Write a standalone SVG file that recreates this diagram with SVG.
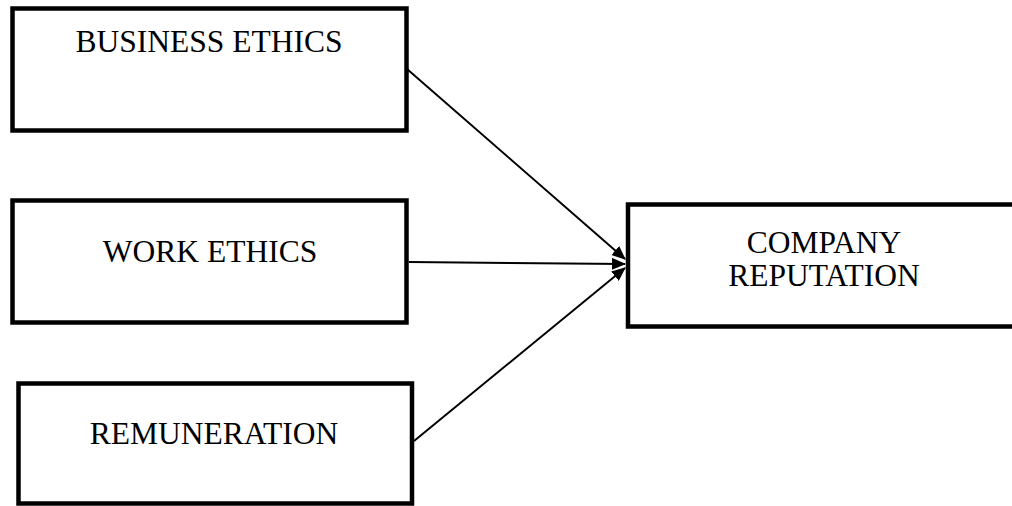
<svg xmlns="http://www.w3.org/2000/svg" width="1012" height="506" viewBox="0 0 1012 506">
<defs>
<marker id="arr" viewBox="0 0 14 12" refX="13" refY="6" markerWidth="14" markerHeight="12" markerUnits="userSpaceOnUse" orient="auto">
<path d="M0,0 L14,6 L0,12 Z" fill="#000"/>
</marker>
<style>
.box{fill:#fff;stroke:#000;stroke-width:4.5}
.lbl{font-family:"Liberation Serif","Times New Roman",serif;font-size:31.5px;fill:#000;text-anchor:middle}
.conn{stroke:#000;stroke-width:2;fill:none;marker-end:url(#arr)}
</style>
</defs>
<rect width="1012" height="506" fill="#fff"/>
<g id="connectors">
<line class="conn" x1="407" y1="69" x2="625" y2="259"/>
<line class="conn" x1="409" y1="262" x2="625" y2="264"/>
<line class="conn" x1="414" y1="441" x2="625" y2="268"/>
</g>
<g id="business-ethics">
<rect class="box" x="12.5" y="8.5" width="394" height="122"/>
<text class="lbl" x="209" y="52">BUSINESS ETHICS</text>
</g>
<g id="work-ethics">
<rect class="box" x="12.5" y="200.5" width="394" height="122"/>
<text class="lbl" x="210" y="262">WORK ETHICS</text>
</g>
<g id="remuneration">
<rect class="box" x="18.5" y="383.5" width="393.5" height="120"/>
<text class="lbl" x="214" y="444">REMUNERATION</text>
</g>
<g id="company-reputation">
<rect class="box" x="628" y="204.5" width="392" height="122"/>
<text class="lbl" x="824" y="253">COMPANY</text>
<text class="lbl" x="824" y="286">REPUTATION</text>
</g>
</svg>
